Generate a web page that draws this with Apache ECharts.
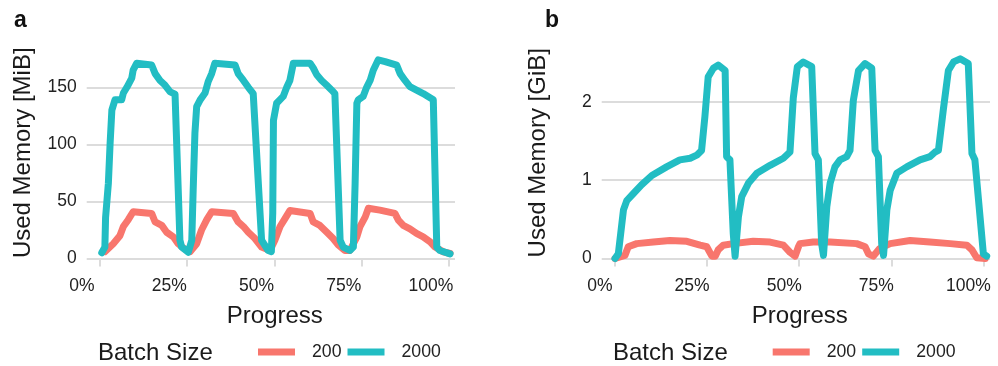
<!DOCTYPE html>
<html><head><meta charset="utf-8">
<script src="https://cdn.jsdelivr.net/npm/echarts@6/dist/echarts.min.js"></script>
<style>html,body{margin:0;padding:0;background:#fff}#c{width:998px;height:366px}</style>
</head><body><div id="c"></div>
<script>
// ---- data (Progress %, Used memory) ----
const xTicks = [0, 25, 50, 75, 100];
const yTicksA = [0, 50, 100, 150];
const yTicksB = [0, 1, 2];
const seriesNames = ['200', '2000'];

// Panel a: MiB
const a200x = [1.4,3.8,5.7,6.7,8.1,9.5,14.8,15.8,17.7,19.1,21.0,22.4,23.9,25.8,27.7,29.1,30.6,32.0,38.2,39.6,41.1,42.5,44.4,46.3,48.7,50.1,51.6,53.0,54.4,60.2,61.1,63.0,65.0,66.8,68.3,70.2,71.6,73.6,74.5,76.0,76.9,80.2,84.5,85.5,86.9,88.8,90.7,92.6,94.6,96.0,98.4,100.3];
const a200y = [6,13,20,28,34,41,39.5,32,29,23,19,13,9,6,13,25,34,41,39.5,32,28,23,17.5,10,7,16,28,35,42,39.5,32,29,23,17.5,11.7,7,7,19,28,36.5,44,42.4,39.5,33.6,29,26,22,19,14.6,10,5.8,4.4];
const a2000x = [0.5,1.4,1.6,2.4,2.9,3.4,4.3,6.2,6.7,7.7,9.1,9.5,10.5,14.8,15.8,17.2,18.6,20.1,21.5,22.9,23.4,25.3,26.3,26.7,27.2,27.7,28.7,30.1,31.0,32.0,32.9,38.7,39.6,41.1,42.5,43.9,46.3,48.2,49.1,49.5,49.7,50.6,52.5,53.5,54.4,55.4,60.2,61.1,62.1,63.5,64.9,66.4,67.3,68.8,69.7,71.6,72.6,73.1,73.6,74.0,75.4,76.4,77.4,78.3,79.7,81.7,85.0,86.0,87.4,88.8,90.7,92.6,95.5,96.5,97.4,100.3];
const a2000y = [5,10,36,66,101,130,139,139,145,150,158,165,171,169.5,162,156,152,146,144,16,10,5.5,16,60,110,133,139,145,155,162,171,169.5,162,156,150,144.5,16,7,6,40,121,136,142,150,156,171,171,167,161,156,152,147.5,144.5,16,10,7,10,66,136,139,142,150,156,165,174,172.5,169.5,162,156,150.5,147.5,144.5,139,10,7,4];

// Panel b: GiB
const b200x = [0,2.7,3.6,5.9,10.4,14.9,19.5,23.1,24.9,26.3,27.2,28.0,29.4,32.1,37.5,42.1,45.7,47.5,48.9,49.8,50.2,53.8,58.4,65.6,67.9,68.8,70.1,71.9,74.7,80.1,85.5,91.0,95.5,96.9,98.2,100.5];
const b200y = [0,0.04,0.15,0.19,0.21,0.23,0.22,0.17,0.15,0.03,0.03,0.11,0.17,0.19,0.22,0.21,0.17,0.08,0.03,0.15,0.19,0.21,0.21,0.19,0.15,0.06,0.03,0.13,0.19,0.23,0.21,0.19,0.17,0.11,0.01,0];
const b2000x = [0,0.9,2.3,3.2,5.0,7.2,10.0,14.0,17.6,20.4,22.2,23.5,24.4,25.3,26.7,28.0,29.9,30.3,31.2,32.1,32.6,33.5,34.4,36.2,38.5,42.1,45.7,47.5,48.4,49.5,51.1,53.4,54.3,55.2,56.1,56.6,57.5,58.4,59.7,61.1,62.9,63.8,64.7,66.1,67.9,69.7,70.6,71.5,72.4,72.9,73.8,74.7,76.5,79.2,82.8,85.5,86.9,87.8,89.1,90.5,91.9,93.7,95.9,96.9,97.7,99.1,100.0,100.9];
const b2000y = [0,0.06,0.62,0.74,0.83,0.94,1.06,1.17,1.26,1.28,1.32,1.38,1.81,2.32,2.43,2.47,2.40,1.30,1.26,0.32,0.03,0.53,0.79,0.96,1.09,1.19,1.28,1.36,2.05,2.45,2.51,2.45,1.34,1.26,0.19,0.04,0.66,0.96,1.17,1.26,1.30,1.38,2.02,2.40,2.49,2.43,1.38,1.30,0.19,0.04,0.62,0.87,1.09,1.17,1.26,1.30,1.36,1.38,1.89,2.40,2.51,2.55,2.49,1.34,1.26,0.53,0.06,0.03];

// ---- chart ----
const FONT = 'Liberation Sans, Arial, Helvetica, sans-serif';
const RED = '#F8766D', TEAL = '#22BDC3';
const GRIDC = '#dcdcdc', TXT = '#222222';
const zip = (xs, ys) => xs.map((x, i) => [x, ys[i]]);

function xAxisDef(idx, min, max, shift) {
  return {
    type: 'value', gridIndex: idx, min: min, max: max,
    name: 'Progress', nameLocation: 'middle', nameGap: 46,
    nameTextStyle: {fontFamily: FONT, fontSize: 24, color: '#1a1a1a', padding: [0, 0, 0, 8]},
    axisLine: {show: false},
    axisTick: {show: true, customValues: xTicks, length: 8, inside: false, lineStyle: {color: GRIDC, width: 2}},
    axisLabel: {customValues: xTicks, formatter: v => v + '%', fontFamily: FONT, fontSize: 17.5, color: TXT,
      margin: 19, align: 'center', padding: [0, shift * 2, 0, 0]},
    splitLine: {show: false}
  };
}
function yAxisDef(idx, max, ticks, title) {
  return {
    type: 'value', gridIndex: idx, min: 0, max: max,
    name: title, nameLocation: 'middle', nameGap: 51, nameRotate: 90,
    nameTextStyle: {fontFamily: FONT, fontSize: 24, color: '#1a1a1a'},
    axisLine: {show: false},
    axisTick: {show: false, customValues: ticks},
    axisLabel: {customValues: ticks, fontFamily: FONT, fontSize: 17.5, color: TXT, margin: 10},
    splitLine: {show: true, lineStyle: {color: GRIDC, width: 2}}
  };
}
function lineSeries(name, xi, yi, data, color) {
  return {
    name: name, type: 'line', xAxisIndex: xi, yAxisIndex: yi, data: data,
    showSymbol: false, symbol: 'none', clip: false, animation: false,
    lineStyle: {color: color, width: 7, cap: 'round', join: 'round'},
    itemStyle: {color: color}
  };
}
function legendDef(left) {
  return {
    data: seriesNames, left: left, top: 343, orient: 'horizontal', padding: 0,
    icon: 'rect', itemWidth: 37, itemHeight: 7, itemGap: 6,
    textStyle: {fontFamily: FONT, fontSize: 17.7, color: TXT, padding: [0, 0, 0, 12]},
    selectedMode: false
  };
}

const chart = echarts.init(document.getElementById('c'), null, {renderer: 'canvas'});
chart.setOption({
  animation: false,
  backgroundColor: '#fff',
  grid: [
    {left: 86.7, right: 543, top: 47, bottom: 107.5},
    {left: 601.7, right: 8, top: 47, bottom: 107.5}
  ],
  xAxis: [xAxisDef(0, -3.81, 101.72, 18), xAxisDef(1, -3.61, 101.8, 15)],
  yAxis: [yAxisDef(0, 185.3, yTicksA, 'Used Memory [MiB]'), yAxisDef(1, 2.701, yTicksB, 'Used Memory [GiB]')],
  legend: [legendDef(258), legendDef(772.7)],
  series: [
    lineSeries(seriesNames[0], 0, 0, zip(a200x, a200y), RED),
    lineSeries(seriesNames[1], 0, 0, zip(a2000x, a2000y), TEAL),
    lineSeries(seriesNames[0], 1, 1, zip(b200x, b200y), RED),
    lineSeries(seriesNames[1], 1, 1, zip(b2000x, b2000y), TEAL)
  ],
  graphic: [
    {type: 'text', left: 14, top: 9, style: {text: 'a', fontFamily: FONT, fontSize: 23, fontWeight: 'bold', fill: '#111'}},
    {type: 'text', left: 545, top: 9, style: {text: 'b', fontFamily: FONT, fontSize: 23, fontWeight: 'bold', fill: '#111'}},
    {type: 'text', left: 98, top: 341, style: {text: 'Batch Size', fontFamily: FONT, fontSize: 24, fill: '#1a1a1a'}},
    {type: 'text', left: 613, top: 341, style: {text: 'Batch Size', fontFamily: FONT, fontSize: 24, fill: '#1a1a1a'}}
  ]
});
</script></body></html>
